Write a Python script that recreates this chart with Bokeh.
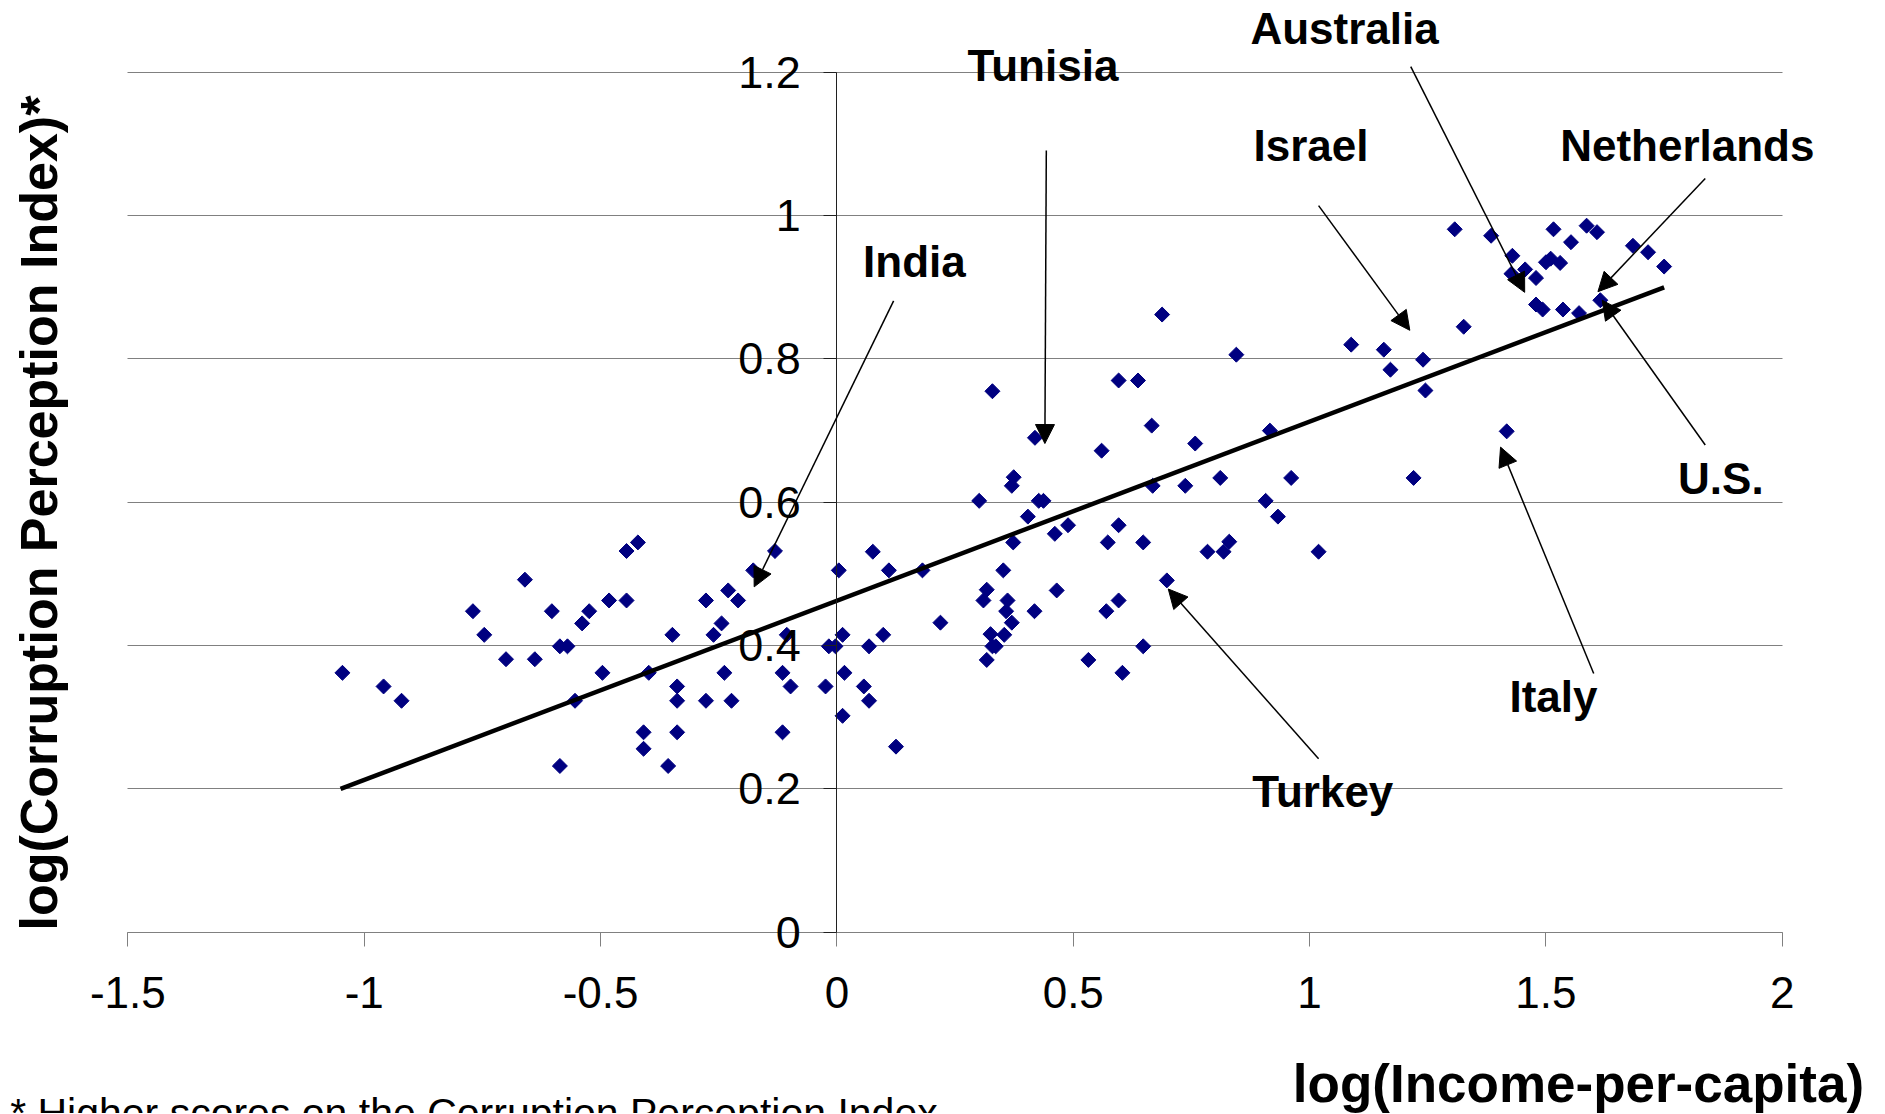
import math
from bokeh.plotting import figure
from bokeh.models import (ColumnDataSource, Range1d, FixedTicker, Label, LabelSet,
                          Arrow, NormalHead, Grid)
from bokeh.embed import file_html
from bokeh.resources import INLINE
from bokeh.core.properties import value

# ---- data: log(income per capita) vs log(corruption perception index) ----
income = [
    -1.046, -0.959, -0.921, -0.770, -0.746, -0.700, -0.660, -0.639, -0.603, -0.586,
    -0.570, -0.586, -0.554, -0.539, -0.524, -0.496, -0.482, -0.445, -0.445, -0.421,
    -0.409, -0.409, -0.398, -0.357, -0.348, -0.338, -0.338, -0.338, -0.277, -0.277,
    -0.261, -0.244, -0.238, -0.230, -0.223, -0.209, -0.177, -0.131, -0.115, -0.115,
    -0.106, -0.098, -0.024, -0.017, -0.003, 0.004, 0.012, 0.012, 0.016,
    0.845, 0.329, 0.596, 0.637, 0.666, 0.916, 0.419, 0.560, 0.758, 0.374,
    0.370, 0.811, 0.961, 0.668, 0.737, 0.301, 0.427, 0.437, 0.907, 0.933,
    0.404, 0.489, 0.461, 0.596, 0.373, 0.573, 0.648, 0.830, 0.784, 0.818,
    1.019, 0.076, 0.110, 0.181, 0.352, 0.317, 0.310, 0.361, 0.358, 0.370,
    0.465, 0.418, 0.698, 0.596, 0.570, 0.219, 0.098, 0.068, 0.325, 0.354,
    0.329, 0.336, 0.317, 0.648, 0.532, 0.604, 0.057, 0.068, 0.125, 0.688,
    1.307, 1.384, 1.516, 1.586, 1.608, 1.553, 1.684, 1.716, 1.750, 1.429,
    1.500, 1.510, 1.530, 1.456, 1.427, 1.479, 1.479, 1.493, 1.536, 1.570,
    1.615, 1.326, 1.088, 1.157, 1.240, 1.171, 1.245, 1.417, 1.220,
]
corruption = [
    0.362, 0.343, 0.323, 0.448, 0.415, 0.381, 0.492, 0.381, 0.448, 0.399,
    0.399, 0.232, 0.323, 0.431, 0.448, 0.362, 0.463, 0.463, 0.532, 0.544,
    0.279, 0.256, 0.362, 0.232, 0.415, 0.343, 0.323, 0.279, 0.463, 0.323,
    0.415, 0.431, 0.362, 0.477, 0.323, 0.463, 0.505, 0.532, 0.362, 0.279,
    0.415, 0.343, 0.343, 0.399, 0.399, 0.505, 0.415, 0.302, 0.362,
    0.806, 0.755, 0.770, 0.770, 0.707, 0.700, 0.690, 0.672, 0.682, 0.635,
    0.623, 0.634, 0.634, 0.623, 0.623, 0.602, 0.602, 0.602, 0.602, 0.580,
    0.580, 0.568, 0.556, 0.568, 0.544, 0.544, 0.544, 0.545, 0.531, 0.531,
    0.531, 0.531, 0.505, 0.505, 0.505, 0.478, 0.463, 0.463, 0.448, 0.432,
    0.477, 0.448, 0.491, 0.463, 0.448, 0.432, 0.415, 0.399, 0.416, 0.415,
    0.399, 0.399, 0.380, 0.399, 0.380, 0.362, 0.343, 0.323, 0.259, 0.862,
    0.981, 0.972, 0.981, 0.986, 0.977, 0.963, 0.958, 0.949, 0.929, 0.944,
    0.935, 0.940, 0.934, 0.925, 0.919, 0.913, 0.876, 0.869, 0.869, 0.864,
    0.882, 0.845, 0.820, 0.813, 0.799, 0.785, 0.756, 0.699, 0.634,
]

trend_x = [-1.05, 1.75]
trend_y = [0.20, 0.90]

x_bounds = (-1.5, 2.0)
y_bounds = (0.0, 1.2)
x_ticks = [-1.5, -1.0, -0.5, 0.0, 0.5, 1.0, 1.5, 2.0]
x_tick_labels = ["-1.5", "-1", "-0.5", "0", "0.5", "1", "1.5", "2"]
y_ticks = [0.0, 0.2, 0.4, 0.6, 0.8, 1.0, 1.2]
y_tick_labels = ["0", "0.2", "0.4", "0.6", "0.8", "1", "1.2"]

countries = ["Australia", "Tunisia", "Israel", "Netherlands", "India", "U.S.", "Italy", "Turkey"]
label_x = [1.074, 0.436, 1.003, 1.799, 0.164, 1.870, 1.516, 1.028]
label_y = [1.240, 1.188, 1.077, 1.077, 0.914, 0.612, 0.307, 0.1745]
arrow_x0 = [1.214, 0.443, 1.019, 1.837, 0.120, 1.837, 1.601, 1.019]
arrow_y0 = [1.208, 1.091, 1.014, 1.052, 0.881, 0.680, 0.361, 0.242]
arrow_x1 = [1.455, 0.440, 1.212, 1.610, -0.175, 1.619, 1.404, 0.701]
arrow_y1 = [0.893, 0.682, 0.840, 0.894, 0.482, 0.882, 0.677, 0.479]

x_title = "log(Income-per-capita)"
y_title = "log(Corruption Perception Index)*"
footnote = "* Higher scores on the Corruption Perception Index"

FONT_NAME = "Liberation Sans"

# the frame covers the whole canvas; axes are pinned at x=0 / y=0 inside it
p = figure(width=1884, height=1113,
           x_range=Range1d(-1.7694, 2.2162), y_range=Range1d(-0.2530, 1.3003),
           output_backend="svg", toolbar_location=None,
           min_border=0, min_border_left=0, min_border_right=0,
           min_border_top=0, min_border_bottom=0)
p.outline_line_color = None
p.background_fill_color = "white"
p.border_fill_color = "white"

# x axis at y = 0
xa = p.xaxis[0]
xa.fixed_location = 0
xa.bounds = x_bounds
xa.ticker = FixedTicker(ticks=x_ticks)
xa.major_label_overrides = {t: s for t, s in zip(x_ticks, x_tick_labels)}
xa.axis_line_color = "#808080"
xa.major_tick_line_color = "#808080"
xa.major_tick_out = 14
xa.major_tick_in = 0
xa.minor_tick_line_color = None
xa.major_label_standoff = 31
xa.major_label_text_font = FONT_NAME
xa.major_label_text_font_size = "44px"
xa.major_label_text_color = "black"

# y axis at x = 0
ya = p.yaxis[0]
ya.fixed_location = 0
ya.bounds = y_bounds
ya.ticker = FixedTicker(ticks=y_ticks)
ya.major_label_overrides = {t: s for t, s in zip(y_ticks, y_tick_labels)}
ya.axis_line_color = "#202020"
ya.major_tick_line_color = "#202020"
ya.major_tick_out = 13
ya.major_tick_in = 0
ya.minor_tick_line_color = None
ya.major_label_standoff = 23
ya.major_label_text_font = FONT_NAME
ya.major_label_text_font_size = "45px"
ya.major_label_text_color = "black"

p.xgrid.visible = False
p.ygrid.ticker = FixedTicker(ticks=y_ticks)
p.ygrid.grid_line_color = "#808080"
p.ygrid.grid_line_width = 1
if "cross_bounds" in Grid.properties():
    p.ygrid.cross_bounds = x_bounds
else:
    p.ygrid.visible = False
    p.segment(x0=[x_bounds[0]] * len(y_ticks), x1=[x_bounds[1]] * len(y_ticks),
              y0=y_ticks, y1=y_ticks, line_color="#808080", line_width=1)

p.scatter(income, corruption, marker="square", angle=math.pi / 4, size=10.6,
          fill_color="#000080", line_color="#000080")
p.line(trend_x, trend_y, line_width=4.5, line_color="black")

arrow_src = ColumnDataSource(dict(x0=arrow_x0, y0=arrow_y0, x1=arrow_x1, y1=arrow_y1))
p.add_layout(Arrow(end=NormalHead(size=19, fill_color="black", line_color="black"),
                   x_start="x0", y_start="y0", x_end="x1", y_end="y1",
                   source=arrow_src, line_width=1.5, line_color="black"))

lab_src = ColumnDataSource(dict(x=label_x, y=label_y, name=countries))
p.add_layout(LabelSet(x="x", y="y", text="name", source=lab_src, text_font=value(FONT_NAME),
                      text_font_style="bold", text_font_size="44px", text_color="black",
                      text_align="center", text_baseline="alphabetic"))

p.add_layout(Label(x=2.173, y=-0.211, text=x_title, text_font=FONT_NAME, text_font_style="bold",
                   text_font_size="53px", text_color="black",
                   text_align="right", text_baseline="alphabetic"))
p.add_layout(Label(x=-1.688, y=0.585, text=y_title, angle=math.pi / 2, text_font=FONT_NAME,
                   text_font_style="bold", text_font_size="52px", text_color="black",
                   text_align="center", text_baseline="alphabetic"))
p.add_layout(Label(x=-1.749, y=-0.2525, text=footnote, text_font=FONT_NAME,
                   text_font_size="41px", text_color="black",
                   text_align="left", text_baseline="alphabetic"))

open("out.html", "w").write(file_html(p, INLINE))
